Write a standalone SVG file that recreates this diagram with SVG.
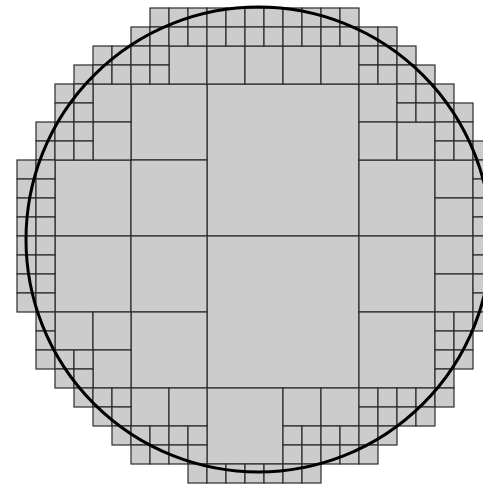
<svg xmlns="http://www.w3.org/2000/svg" width="483" height="489" viewBox="0 0 483 489">
<style>
rect{fill:#cccccc;stroke:#2b2b2b;stroke-width:1.2}
.a{width:19px;height:19px}
.b{width:38px;height:38px}
.d{width:76px;height:76px}
.e{width:152px;height:152px}
#circle{fill:none;stroke:#000;stroke-width:3}
</style>
<rect width="483" height="489" style="fill:#fff;stroke:none"/>
<g id="cells8">
<rect class="e" x="207" y="84" width="152" height="152"/>
<rect class="e" x="207" y="236" width="152" height="152"/>
</g>
<g id="cells4">
<rect x="131" y="84" width="76" height="76"/>
<rect x="55" y="160" width="76" height="76"/>
<rect x="131" y="160" width="76" height="76"/>
<rect x="359" y="160" width="76" height="76"/>
<rect x="55" y="236" width="76" height="76"/>
<rect x="131" y="236" width="76" height="76"/>
<rect x="359" y="236" width="76" height="76"/>
<rect x="131" y="312" width="76" height="76"/>
<rect x="359" y="312" width="76" height="76"/>
<rect x="207" y="388" width="76" height="76"/>
</g>
<g id="cells2">
<rect x="169" y="46" width="38" height="38"/>
<rect x="207" y="46" width="38" height="38"/>
<rect x="245" y="46" width="38" height="38"/>
<rect x="283" y="46" width="38" height="38"/>
<rect x="321" y="46" width="38" height="38"/>
<rect x="93" y="84" width="38" height="38"/>
<rect x="359" y="84" width="38" height="38"/>
<rect x="93" y="122" width="38" height="38"/>
<rect x="359" y="122" width="38" height="38"/>
<rect x="397" y="122" width="38" height="38"/>
<rect x="435" y="160" width="38" height="38"/>
<rect x="435" y="198" width="38" height="38"/>
<rect x="435" y="236" width="38" height="38"/>
<rect x="435" y="274" width="38" height="38"/>
<rect x="55" y="312" width="38" height="38"/>
<rect x="93" y="312" width="38" height="38"/>
<rect x="93" y="350" width="38" height="38"/>
<rect x="131" y="388" width="38" height="38"/>
<rect x="169" y="388" width="38" height="38"/>
<rect x="283" y="388" width="38" height="38"/>
<rect x="321" y="388" width="38" height="38"/>
</g>
<g id="cells1">
<rect x="150" y="8" width="19" height="19"/><rect x="169" y="8" width="19" height="19"/><rect x="188" y="8" width="19" height="19"/><rect x="207" y="8" width="19" height="19"/><rect x="226" y="8" width="19" height="19"/><rect x="245" y="8" width="19" height="19"/><rect x="264" y="8" width="19" height="19"/><rect x="283" y="8" width="19" height="19"/><rect x="302" y="8" width="19" height="19"/><rect x="321" y="8" width="19" height="19"/><rect x="340" y="8" width="19" height="19"/>
<rect x="131" y="27" width="19" height="19"/><rect x="150" y="27" width="19" height="19"/><rect x="169" y="27" width="19" height="19"/><rect x="188" y="27" width="19" height="19"/><rect x="207" y="27" width="19" height="19"/><rect x="226" y="27" width="19" height="19"/><rect x="245" y="27" width="19" height="19"/><rect x="264" y="27" width="19" height="19"/><rect x="283" y="27" width="19" height="19"/><rect x="302" y="27" width="19" height="19"/><rect x="321" y="27" width="19" height="19"/><rect x="340" y="27" width="19" height="19"/><rect x="359" y="27" width="19" height="19"/><rect x="378" y="27" width="19" height="19"/>
<rect x="93" y="46" width="19" height="19"/><rect x="112" y="46" width="19" height="19"/><rect x="131" y="46" width="19" height="19"/><rect x="150" y="46" width="19" height="19"/><rect x="359" y="46" width="19" height="19"/><rect x="378" y="46" width="19" height="19"/><rect x="397" y="46" width="19" height="19"/>
<rect x="74" y="65" width="19" height="19"/><rect x="93" y="65" width="19" height="19"/><rect x="112" y="65" width="19" height="19"/><rect x="131" y="65" width="19" height="19"/><rect x="150" y="65" width="19" height="19"/><rect x="359" y="65" width="19" height="19"/><rect x="378" y="65" width="19" height="19"/><rect x="397" y="65" width="19" height="19"/><rect x="416" y="65" width="19" height="19"/>
<rect x="55" y="84" width="19" height="19"/><rect x="74" y="84" width="19" height="19"/><rect x="397" y="84" width="19" height="19"/><rect x="416" y="84" width="19" height="19"/><rect x="435" y="84" width="19" height="19"/>
<rect x="55" y="103" width="19" height="19"/><rect x="74" y="103" width="19" height="19"/><rect x="397" y="103" width="19" height="19"/><rect x="416" y="103" width="19" height="19"/><rect x="435" y="103" width="19" height="19"/><rect x="454" y="103" width="19" height="19"/>
<rect x="36" y="122" width="19" height="19"/><rect x="55" y="122" width="19" height="19"/><rect x="74" y="122" width="19" height="19"/><rect x="435" y="122" width="19" height="19"/><rect x="454" y="122" width="19" height="19"/>
<rect x="36" y="141" width="19" height="19"/><rect x="55" y="141" width="19" height="19"/><rect x="74" y="141" width="19" height="19"/><rect x="435" y="141" width="19" height="19"/><rect x="454" y="141" width="19" height="19"/><rect x="473" y="141" width="19" height="19"/>
<rect x="17" y="160" width="19" height="19"/><rect x="36" y="160" width="19" height="19"/><rect x="473" y="160" width="19" height="19"/>
<rect x="17" y="179" width="19" height="19"/><rect x="36" y="179" width="19" height="19"/><rect x="473" y="179" width="19" height="19"/>
<rect x="17" y="198" width="19" height="19"/><rect x="36" y="198" width="19" height="19"/><rect x="473" y="198" width="19" height="19"/>
<rect x="17" y="217" width="19" height="19"/><rect x="36" y="217" width="19" height="19"/><rect x="473" y="217" width="19" height="19"/>
<rect x="17" y="236" width="19" height="19"/><rect x="36" y="236" width="19" height="19"/><rect x="473" y="236" width="19" height="19"/>
<rect x="17" y="255" width="19" height="19"/><rect x="36" y="255" width="19" height="19"/><rect x="473" y="255" width="19" height="19"/>
<rect x="17" y="274" width="19" height="19"/><rect x="36" y="274" width="19" height="19"/><rect x="473" y="274" width="19" height="19"/>
<rect x="17" y="293" width="19" height="19"/><rect x="36" y="293" width="19" height="19"/><rect x="473" y="293" width="19" height="19"/>
<rect x="36" y="312" width="19" height="19"/><rect x="435" y="312" width="19" height="19"/><rect x="454" y="312" width="19" height="19"/><rect x="473" y="312" width="19" height="19"/>
<rect x="36" y="331" width="19" height="19"/><rect x="435" y="331" width="19" height="19"/><rect x="454" y="331" width="19" height="19"/>
<rect x="36" y="350" width="19" height="19"/><rect x="55" y="350" width="19" height="19"/><rect x="74" y="350" width="19" height="19"/><rect x="435" y="350" width="19" height="19"/><rect x="454" y="350" width="19" height="19"/>
<rect x="55" y="369" width="19" height="19"/><rect x="74" y="369" width="19" height="19"/><rect x="435" y="369" width="19" height="19"/>
<rect x="74" y="388" width="19" height="19"/><rect x="93" y="388" width="19" height="19"/><rect x="112" y="388" width="19" height="19"/><rect x="359" y="388" width="19" height="19"/><rect x="378" y="388" width="19" height="19"/><rect x="397" y="388" width="19" height="19"/><rect x="416" y="388" width="19" height="19"/><rect x="435" y="388" width="19" height="19"/>
<rect x="93" y="407" width="19" height="19"/><rect x="112" y="407" width="19" height="19"/><rect x="359" y="407" width="19" height="19"/><rect x="378" y="407" width="19" height="19"/><rect x="397" y="407" width="19" height="19"/><rect x="416" y="407" width="19" height="19"/>
<rect x="112" y="426" width="19" height="19"/><rect x="131" y="426" width="19" height="19"/><rect x="150" y="426" width="19" height="19"/><rect x="169" y="426" width="19" height="19"/><rect x="188" y="426" width="19" height="19"/><rect x="283" y="426" width="19" height="19"/><rect x="302" y="426" width="19" height="19"/><rect x="321" y="426" width="19" height="19"/><rect x="340" y="426" width="19" height="19"/><rect x="359" y="426" width="19" height="19"/><rect x="378" y="426" width="19" height="19"/>
<rect x="131" y="445" width="19" height="19"/><rect x="150" y="445" width="19" height="19"/><rect x="169" y="445" width="19" height="19"/><rect x="188" y="445" width="19" height="19"/><rect x="283" y="445" width="19" height="19"/><rect x="302" y="445" width="19" height="19"/><rect x="321" y="445" width="19" height="19"/><rect x="340" y="445" width="19" height="19"/><rect x="359" y="445" width="19" height="19"/>
<rect x="188" y="464" width="19" height="19"/><rect x="207" y="464" width="19" height="19"/><rect x="226" y="464" width="19" height="19"/><rect x="245" y="464" width="19" height="19"/><rect x="264" y="464" width="19" height="19"/><rect x="283" y="464" width="19" height="19"/><rect x="302" y="464" width="19" height="19"/>
</g>
<circle id="circle" cx="258.5" cy="239.5" r="232.5"/>
</svg>
